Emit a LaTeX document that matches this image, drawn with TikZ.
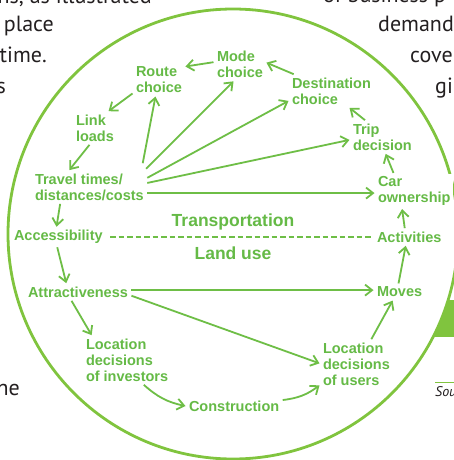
\documentclass[tikz,border=0pt]{standalone}
\usepackage{fontspec}
\setmainfont{Liberation Sans}
\newfontfamily\bodyfont{PT Sans}
\usetikzlibrary{arrows.meta}
\definecolor{labelgreen}{RGB}{101,186,70}
\definecolor{arrowgreen}{RGB}{110,190,70}
\definecolor{ringgreen}{RGB}{128,196,62}
\definecolor{bodytext}{RGB}{35,31,32}
\definecolor{ringfill}{RGB}{255,255,255}
\begin{document}
\begin{tikzpicture}[x=1pt,y=-1pt,
  lbl/.style={font=\fontsize{14.5}{16}\selectfont\bfseries, text=labelgreen,
    align=left, anchor=west, inner sep=2pt, outer sep=1.5pt, fill=white},
  title/.style={font=\fontsize{17.5}{20}\selectfont\bfseries, text=labelgreen, inner sep=1pt},
  flow/.style={draw=arrowgreen, line width=1.8pt,
    -{Straight Barb[length=7pt,width=11pt]}},
  divider/.style={draw=arrowgreen, line width=1.4pt, dash pattern=on 5.5pt off 3pt},
  body/.style={font=\bodyfont\fontsize{22}{26}\selectfont, text=bodytext, inner sep=0pt},
  bodyl/.style={body, anchor=base east},
  bodyr/.style={body, anchor=base west}
]
\useasboundingbox (0,0) rectangle (454,460);
\clip (0,0) rectangle (454,460);

% surrounding page text
\node[bodyl] (l1) at (152,4) {ations, as illustrated};
\node[bodyl] (l2) at (54,32) {place};
\node[bodyl] (l3) at (47,63) {time.};
\node[bodyl] (l4) at (6,93) {s};
\node[bodyl] (l5) at (20,395) {he};
\node[bodyr] (r1) at (323,3) {of business p};
\node[bodyr] (r2) at (378,32) {demand};
\node[bodyr] (r3) at (410,63) {cove};
\node[bodyr] (r4) at (435,93) {gi};

% green panel behind the ring
\fill[ringgreen] (415,300) rectangle (454,337);

% the ring
\draw[ringgreen, line width=2.8pt, fill=ringfill] (233,234) circle[radius=225];

% source line
\draw[ringgreen, line width=1pt] (435,382) -- (454,382);
\node[body, font=\bodyfont\itshape\fontsize{14}{16}\selectfont, anchor=base west] (src) at (435,396) {Sou};

% transport side
\node[lbl] (mode)   at (213.5,64.5) {Mode\\choice};
\node[lbl] (route)  at (132.5,80)   {Route\\choice};
\node[lbl] (dest)   at (288.5,91)   {Destination\\choice};
\node[lbl] (link)   at (72.5,128)   {Link\\loads};
\node[lbl] (trav)   at (31.5,187)   {Travel times/\\distances/costs};
\node[lbl] (trip)   at (349.5,137)  {Trip\\decision};
\node[lbl] (car)    at (374.5,191)  {Car\\ownership};

% land-use side
\node[lbl] (acc)    at (10.5,237)   {Accessibility};
\node[lbl] (actv)   at (373.5,237)  {Activities};
\node[lbl] (attr)   at (24.5,292)   {Attractiveness};
\node[lbl] (moves)  at (373.5,292)  {Moves};
\node[lbl] (invest) at (82.5,360)   {Location\\decisions\\of investors};
\node[lbl] (users)  at (319.5,364)  {Location\\decisions\\of users};
\node[lbl] (constr) at (185.5,406)  {Construction};

\node[title] (transp) at (233,222) {Transportation};
\node[title] (land)   at (233,253) {Land use};

% boundary between the two subsystems
\draw[divider, shorten <=4pt, shorten >=3pt] (acc.east) -- (actv.west);

% feedback cycle
\draw[flow] (mode.175) -- (route.27);
\draw[flow] (dest.156) -- (mode.4);
\draw[flow] (route.207) -- (link.51);
\draw[flow] (link.252) -- (trav.140);
\draw[flow, shorten <=7pt] (trav.18) -- (route.258);
\draw[flow, shorten <=2pt] (trav.17) -- (mode.249);
\draw[flow] (trav.9) -- (dest.193);
\draw[flow] (trav.4) -- (trip.185);
\draw[flow] (trav.354) -- (trav.354 -| car.west);
\draw[flow] (trav.210) -- (acc.100);
\draw[flow] (acc.264) -- (attr.143);
\draw[flow] (attr.2) -- (attr.2 -| moves.west);
\draw[flow] (attr.356) -- (users.179);
\draw[flow] (attr.234) -- (invest.145);
\draw[flow] (invest.304) to[bend right=15] (constr.180);
\draw[flow] (constr.7) to[bend right=15] (users.210);
\draw[flow] (users.59) -- (moves.231);
\draw[flow] (moves.97) -- (actv.248);
\draw[flow] (actv.117) -- (car.236);
\draw[flow] (car.139) -- (trip.281);
\draw[flow] (trip.136) -- (dest.317);
\end{tikzpicture}
\end{document}
